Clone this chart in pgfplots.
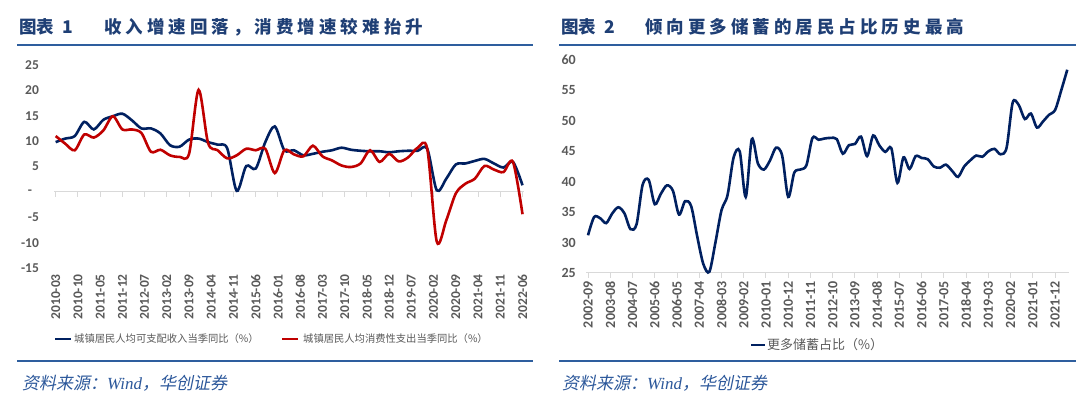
\documentclass[border=0pt]{standalone}
\usepackage{fontspec}
\usepackage{pgfplots}
\pgfplotsset{compat=1.18}
\setmainfont{Liberation Serif}
\newfontfamily\cjk{Noto Sans CJK SC}
\newfontfamily\cjkt[LetterSpace=23]{Noto Sans CJK SC}
\newfontfamily\cjks[FakeSlant=0.2]{Noto Sans CJK SC}
\newfontfamily\tickf{Carlito}
\definecolor{navy}{HTML}{002060}
\definecolor{cred}{HTML}{C00000}
\definecolor{ttl}{HTML}{1F3F75}
\definecolor{rule}{HTML}{2E5E9E}
\definecolor{src}{HTML}{2B579A}
\definecolor{tickgray}{HTML}{595959}
\definecolor{axgray}{HTML}{D9D9D9}

\begin{document}
\begin{tikzpicture}[x=1pt,y=1pt]
\useasboundingbox (0,0) rectangle (1080,404);

% titles and rules
\node[anchor=west,inner sep=0,text=ttl,font=\cjk\bfseries\fontsize{17.5}{18}\selectfont] at (19,377) {图表\hspace{8pt}1};
\node[anchor=west,inner sep=0,text=ttl,font=\cjkt\bfseries\fontsize{17.5}{18}\selectfont] at (104,377) {收入增速回落，消费增速较难抬升};
\node[anchor=west,inner sep=0,text=ttl,font=\cjk\bfseries\fontsize{17.5}{18}\selectfont] at (561,377) {图表\hspace{8pt}2};
\node[anchor=west,inner sep=0,text=ttl,font=\cjkt\bfseries\fontsize{17.5}{18}\selectfont] at (645,377) {倾向更多储蓄的居民占比历史最高};
\draw[rule,line width=2.5pt] (17,359) -- (533,359);
\draw[rule,line width=2.5pt] (559,359) -- (1076,359);
\draw[rule,line width=1.5pt] (17,43) -- (533,43);
\draw[rule,line width=1.5pt] (559,43) -- (1076,43);
\node[anchor=west,inner sep=0,text=src,font=\fontsize{17}{18}\selectfont] at (22,21) {{\cjks 资料来源：}{\itshape Wind}{\cjks ，华创证券}};
\node[anchor=west,inner sep=0,text=src,font=\fontsize{17}{18}\selectfont] at (562,21) {{\cjks 资料来源：}{\itshape Wind}{\cjks ，华创证券}};

% legends
\draw[navy,line width=2.6pt] (55,65) -- (71,65);
\node[anchor=west,inner sep=0,text=tickgray,font=\cjk\fontsize{10.3}{11}\selectfont] at (74,65) {城镇居民人均可支配收入当季同比（\%）};
\draw[cred,line width=2.6pt] (282,65) -- (298,65);
\node[anchor=west,inner sep=0,text=tickgray,font=\cjk\fontsize{10.3}{11}\selectfont] at (303,65) {城镇居民人均消费性支出当季同比（\%）};
\draw[navy,line width=2.6pt] (751,59) -- (765,59);
\node[anchor=west,inner sep=0,text=tickgray,font=\cjk\fontsize{13}{14}\selectfont] at (767,59) {更多储蓄占比（\%）};

\begin{axis}[at={(54.1pt,136pt)}, anchor=south west, scale only axis,
  width=470pt, height=203pt,
  xmin=-0.5, xmax=147.5, ymin=-15, ymax=25, clip=false,
  axis line style={draw=none}, tick style={draw=none},
  xtick={0,7,...,147},
  xticklabels={2010-03,2010-10,2011-05,2011-12,2012-07,2013-02,2013-09,2014-04,2014-11,2015-06,2016-01,2016-08,2017-03,2017-10,2018-05,2018-12,2019-07,2020-02,2020-09,2021-04,2021-11,2022-06},
  ytick={-15,-10,...,25},
  yticklabels={-15,-10,-5,-\hphantom{0},5,10,15,20,25},
  ticklabel style={font=\tickf\bfseries\fontsize{13.5}{14}\selectfont, text=tickgray, inner sep=0pt},
  xticklabel style={rotate=90, anchor=east},
  xticklabel shift=6pt, yticklabel shift=15pt,
]
\draw[axgray,line width=1pt] (axis cs:-0.5,0) -- (axis cs:147.5,0);
\pgfplotsinvokeforeach{0,7,...,147}{\draw[axgray,line width=1pt] (axis cs:#1,0) -- ++(0pt,-5pt);}
\addplot[navy,line width=2.6pt,smooth,tension=0.5] coordinates {
(0,9.8) (3,10.5) (6,11.0) (9,13.8) (12,12.3) (15,14.2) (18,14.9) (21,15.4)
(24,14.1) (27,12.5) (30,12.5) (33,11.5) (36,9.2) (39,8.9) (42,10.3) (45,10.5)
(48,9.8) (51,9.3) (54,8.6) (57,0.2) (60,5.1) (63,4.6) (66,9.8) (69,12.9)
(72,8.2) (75,8.2) (78,7.2) (81,7.5) (84,7.9) (87,8.2) (90,8.7) (93,8.3)
(96,8.1) (99,8.0) (102,8.0) (105,7.8) (108,8.0) (111,8.1) (114,8.1) (117,8.5)
(120,0.3) (123,2.6) (126,5.4) (129,5.6) (132,6.1) (135,6.5) (138,5.6) (141,4.8)
(144,5.9) (147,1.3)};
\addplot[cred,line width=2.6pt,smooth,tension=0.5] coordinates {
(0,11.0) (3,9.5) (6,8.2) (9,11.3) (12,10.7) (15,12.1) (18,14.9) (21,12.3)
(24,12.3) (27,11.6) (30,7.9) (33,8.3) (36,7.2) (39,6.9) (42,7.5) (45,20.1)
(48,9.6) (51,8.2) (54,6.6) (57,7.2) (60,8.5) (63,8.2) (66,8.5) (69,3.7)
(72,8.2) (75,7.4) (78,7.0) (81,9.1) (84,7.0) (87,6.2) (90,5.2) (93,4.9)
(96,5.6) (99,8.2) (102,5.9) (105,7.5) (108,6.0) (111,6.8) (114,8.7) (117,8.5)
(120,-9.8) (123,-5.6) (126,-0.3) (129,1.6) (132,2.6) (135,5.1) (138,4.4) (141,3.9)
(144,5.9) (147,-4.4)};
\end{axis}

\begin{axis}[at={(586pt,131pt)}, anchor=south west, scale only axis,
  width=483.3pt, height=213pt,
  xmin=-1, xmax=238, ymin=25, ymax=60, clip=false,
  axis line style={draw=none}, tick style={draw=none},
  xtick={0,11,...,231},
  xticklabels={2002-09,2003-08,2004-07,2005-06,2006-05,2007-04,2008-03,2009-02,2010-01,2010-12,2011-11,2012-10,2013-09,2014-08,2015-07,2016-06,2017-05,2018-04,2019-03,2020-02,2021-01,2021-12},
  ytick={25,30,...,60},
  yticklabels={25,30,35,40,45,50,55,60},
  ticklabel style={font=\tickf\bfseries\fontsize{14}{15}\selectfont, text=tickgray, inner sep=0pt},
  xticklabel style={rotate=90, anchor=east},
  xticklabel shift=8pt, yticklabel shift=10pt,
]
\draw[axgray,line width=1pt] (axis cs:-1,25) -- (axis cs:238,25);
\pgfplotsinvokeforeach{0,11,...,231}{\draw[axgray,line width=1pt] (axis cs:#1,25) -- ++(0pt,-5pt);}
\addplot[navy,line width=2.6pt,smooth,tension=0.5] coordinates {
(0,31.2) (3,34.2) (6,34.0) (9,33.2) (12,34.8) (15,35.8) (18,34.8) (21,32.2)
(24,33.0) (27,39.5) (30,40.3) (33,36.3) (36,38.0) (39,39.4) (42,38.5) (45,34.6)
(48,36.8) (51,36.0) (54,31.0) (57,26.5) (60,25.2) (63,30.0) (66,35.3) (69,37.8)
(72,44.0) (75,45.0) (78,37.5) (81,47.0) (84,43.0) (87,42.0) (90,43.5) (93,45.6)
(96,44.3) (99,37.5) (102,41.5) (105,42.0) (108,42.7) (111,47.2) (114,46.9) (117,47.1)
(120,47.2) (123,47.0) (126,44.6) (129,46.0) (132,46.2) (135,47.4) (138,44.2) (141,47.6)
(144,46.0) (147,44.9) (150,45.5) (153,39.8) (156,44.0) (159,42.1) (162,44.2) (165,43.9)
(168,43.7) (171,42.5) (174,42.3) (177,42.8) (180,41.8) (183,40.8) (186,42.5) (189,43.5)
(192,44.3) (195,44.1) (198,45.0) (201,45.4) (204,44.5) (207,45.6) (210,53.0) (213,52.6)
(216,50.3) (219,51.2) (222,48.9) (225,49.9) (228,51.0) (231,51.8) (234,55.0) (237,58.4)};
\end{axis}
\end{tikzpicture}
\end{document}
